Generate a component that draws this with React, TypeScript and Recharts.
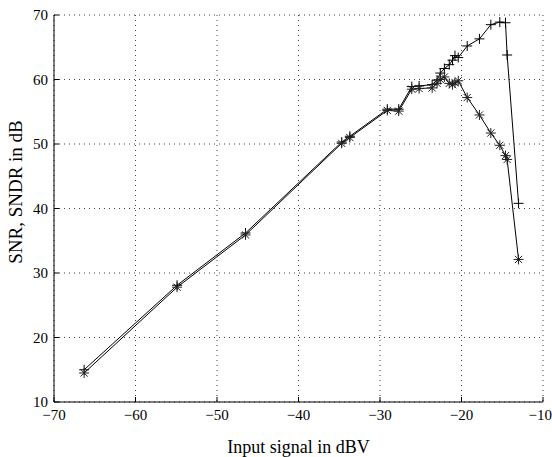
import React from "react"
import { LineChart, Line, XAxis, YAxis, CartesianGrid } from "recharts"

// input level in dBV (shared by both curves)
const inputDbv = [
  -66.3, -54.9, -46.5, -34.7, -33.7, -29.1, -27.7, -26.1, -25.2, -23.6, -23.0, -22.6,
  -22.1, -21.5, -21.1, -20.8, -20.4, -19.3, -17.8, -16.4, -15.3, -14.6, -14.4, -13.0,
]
const snr = [
  15.0, 28.1, 36.2, 50.3, 51.2, 55.4, 55.4, 58.9, 59.0, 59.2, 59.9, 61.0,
  61.7, 62.3, 63.0, 63.7, 63.4, 65.2, 66.3, 68.5, 68.9, 68.8, 63.8, 40.8,
]
const sndr = [
  14.5, 27.8, 35.9, 50.1, 51.0, 55.2, 55.1, 58.5, 58.6, 58.7, 59.4, 60.0,
  60.4, 59.4, 59.2, 59.5, 59.8, 57.2, 54.5, 51.7, 49.8, 48.2, 47.6, 32.1,
]
const xTicks = [-70, -60, -50, -40, -30, -20, -10]
const yTicks = [10, 20, 30, 40, 50, 60, 70]

const snrData = inputDbv.map((x, i) => ({ x, y: snr[i] }))
const sndrData = inputDbv.map((x, i) => ({ x, y: sndr[i] }))

const font = '"Liberation Serif", "Times New Roman", serif'
const minus = (v: number) => String(v).replace("-", "\u2212")

const PlusDot = (props: any) => {
  const { cx, cy, index } = props
  const r = 5
  return (
    <g key={`plus-${index}`} stroke="#000" strokeWidth={1}>
      <line x1={cx - r} y1={cy} x2={cx + r} y2={cy} />
      <line x1={cx} y1={cy - r} x2={cx} y2={cy + r} />
    </g>
  )
}

const StarDot = (props: any) => {
  const { cx, cy, index } = props
  const r = 5
  const d = 3.6
  return (
    <g key={`star-${index}`} stroke="#222" strokeWidth={1}>
      <line x1={cx - r} y1={cy} x2={cx + r} y2={cy} />
      <line x1={cx} y1={cy - r} x2={cx} y2={cy + r} />
      <line x1={cx - d} y1={cy - d} x2={cx + d} y2={cy + d} />
      <line x1={cx - d} y1={cy + d} x2={cx + d} y2={cy - d} />
    </g>
  )
}

// rotated y title, placed by hand
const YTitle = () => (
  <text
    transform="translate(22,192) rotate(-90)"
    textAnchor="middle"
    fill="#000"
    fontSize={19}
    fontFamily={font}
  >
    SNR, SNDR in dB
  </text>
)

export default function App() {
  const tickStyle = { fill: "#000", fontSize: 15, fontFamily: font }
  return (
    <div style={{ position: "absolute", left: 0, top: 0, background: "#fff" }}>
      <LineChart width={552} height={457} margin={{ top: 15, right: 9, bottom: 0, left: 0 }}>
        <CartesianGrid xAxisId="b" yAxisId="l" stroke="#444" strokeDasharray="1 4" />
        <XAxis
          xAxisId="b"
          dataKey="x"
          type="number"
          domain={[-70, -10]}
          ticks={xTicks}
          allowDataOverflow
          height={55}
          stroke="#000"
          tickSize={-5}
          tickMargin={12}
          tick={tickStyle}
          tickFormatter={minus}
          label={{
            value: "Input signal in dBV",
            position: "insideBottom",
            offset: 4,
            style: { fill: "#000", fontSize: 18, fontFamily: font },
          }}
        />
        <XAxis
          xAxisId="t"
          dataKey="x"
          type="number"
          orientation="top"
          domain={[-70, -10]}
          ticks={xTicks}
          height={0}
          stroke="#000"
          tickSize={-5}
          tickFormatter={() => ""}
        />
        <YAxis
          yAxisId="l"
          type="number"
          domain={[10, 70]}
          ticks={yTicks}
          width={54}
          stroke="#000"
          tickSize={-5}
          tickMargin={11}
          tick={tickStyle}
          label={{ content: YTitle }}
        />
        <YAxis
          yAxisId="r"
          type="number"
          orientation="right"
          domain={[10, 70]}
          ticks={yTicks}
          width={0}
          stroke="#000"
          tickSize={-5}
          tickFormatter={() => ""}
        />
        <Line
          xAxisId="b"
          yAxisId="l"
          data={snrData}
          dataKey="y"
          type="linear"
          stroke="#000"
          strokeWidth={1}
          dot={PlusDot}
          activeDot={false}
          isAnimationActive={false}
        />
        <Line
          xAxisId="b"
          yAxisId="l"
          data={sndrData}
          dataKey="y"
          type="linear"
          stroke="#000"
          strokeWidth={1}
          dot={StarDot}
          activeDot={false}
          isAnimationActive={false}
        />
      </LineChart>
    </div>
  )
}
